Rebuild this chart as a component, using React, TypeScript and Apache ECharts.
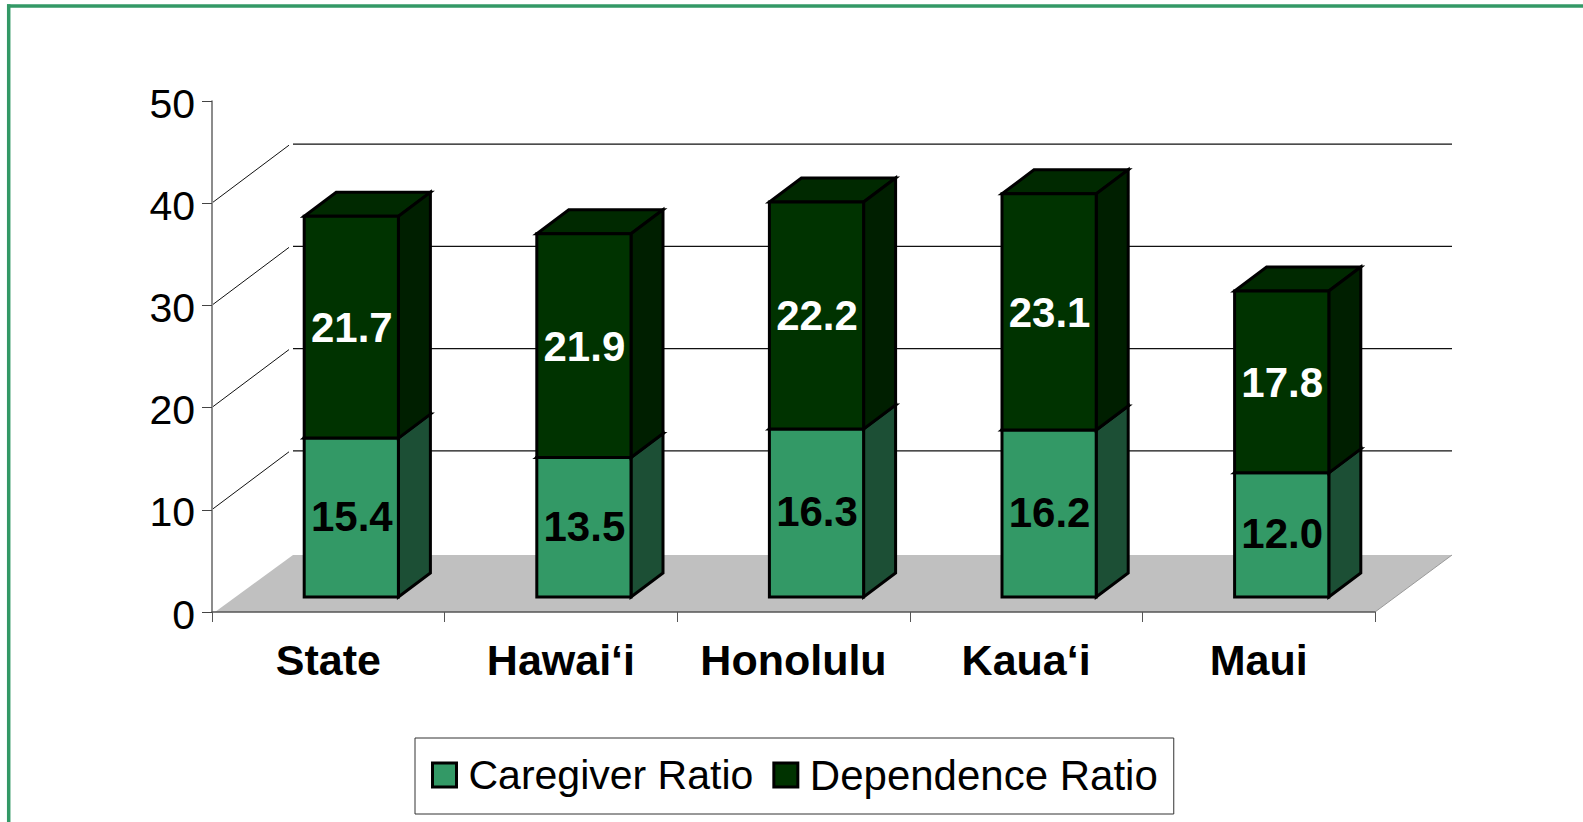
import React, { useEffect, useRef } from "react";
import * as echarts from "echarts";

const categories = ["State", "Hawai‘i", "Honolulu", "Kaua‘i", "Maui"];
const caregiverRatio = [15.4, 13.5, 16.3, 16.2, 12.0];
const dependenceRatio = [21.7, 21.9, 22.2, 23.1, 17.8];
const wallTicks = [10, 20, 30, 40];
const yTicks = { min: 0, max: 50, interval: 10 };

const FONT = "'Liberation Sans', Arial, sans-serif";
const GREEN = "#339966";
const DARK = "#003300";

// 3-D geometry of the plot, in pixels
const BACK_DX = 81;
const BACK_DY = 59;
const FLOOR_DY = 57;
const BAR_DX = 23;
const BAR_DY = 15;
const BAR_LIFT = 1.5;
const SIDE_DX = 32;
const SIDE_DY = 24;
const BAR_BAND = 0.405;

function wallRender(params: any, api: any) {
  const v = api.value(0);
  const first = api.coord([0, v]);
  const halfBand = api.size([1, 0])[0] / 2;
  const x0 = first[0] - halfBand;
  const x1 = api.coord([categories.length - 1, v])[0] + halfBand;
  if (v === 0) {
    return {
      type: "group",
      children: [
        {
          type: "polygon",
          shape: {
            points: [
              [x0 + 3, first[1]],
              [x0 + BACK_DX, first[1] - FLOOR_DY],
              [x1 + BACK_DX - 4, first[1] - FLOOR_DY],
              [x1, first[1]],
            ],
          },
          style: { fill: "#C0C0C0", stroke: "none" },
        },
        {
          type: "line",
          shape: { x1: x1, y1: first[1], x2: x1 + BACK_DX - 4, y2: first[1] - FLOOR_DY },
          style: { stroke: "#9a9a9a", lineWidth: 1 },
        },
      ],
    };
  }
  const y = first[1];
  return {
    type: "group",
    children: [
      {
        type: "line",
        shape: { x1: x0 + 1, y1: y - 1, x2: x0 + 77, y2: y - 58 },
        style: { stroke: "#111", lineWidth: 1 },
      },
      {
        type: "line",
        shape: { x1: x0 + BACK_DX, y1: y - BACK_DY, x2: x1 + BACK_DX - 4, y2: y - BACK_DY },
        style: { stroke: "#111", lineWidth: 1.2 },
      },
    ],
  };
}

function barRender(front: string, side: string, top: string, labelColor: string, labelDy: number) {
  return (params: any, api: any) => {
    const idx = api.value(0);
    const start = api.value(1);
    const val = api.value(2);
    const w = api.size([1, 0])[0] * BAR_BAND;
    const p0 = api.coord([idx, start]);
    const p1 = api.coord([idx, start + val]);
    const l = p0[0] + BAR_DX - w / 2;
    const r = l + w;
    const b = p0[1] - BAR_DY - (start > 0 ? BAR_LIFT : 0);
    const t = p1[1] - BAR_DY - BAR_LIFT;
    const edge = { stroke: "#000", lineWidth: 3, lineJoin: "miter" };
    return {
      type: "group",
      children: [
        {
          type: "polygon",
          shape: { points: [[l, t], [r, t], [r + SIDE_DX, t - SIDE_DY], [l + SIDE_DX, t - SIDE_DY]] },
          style: { fill: top, ...edge },
        },
        {
          type: "polygon",
          shape: { points: [[r, b], [r, t], [r + SIDE_DX, t - SIDE_DY], [r + SIDE_DX, b - SIDE_DY]] },
          style: { fill: side, ...edge },
        },
        {
          type: "polygon",
          shape: { points: [[l, b], [r, b], [r, t], [l, t]] },
          style: { fill: front, ...edge },
        },
        {
          type: "text",
          style: {
            text: val.toFixed(1),
            x: (l + r) / 2 + 0.5,
            y: (b + t) / 2 + labelDy,
            fill: labelColor,
            font: `bold 42px ${FONT}`,
            align: "center",
            verticalAlign: "middle",
          },
        },
      ],
    };
  };
}

export default function App() {
  const ref = useRef<HTMLDivElement>(null);
  useEffect(() => {
    const chart = echarts.init(ref.current!, null, { renderer: "svg" });
    chart.setOption({
      animation: false,
      backgroundColor: "#fff",
      grid: { left: 212, top: 101, width: 1163, height: 511, containLabel: false },
      xAxis: {
        type: "category",
        data: categories,
        z: 5,
        axisLine: { lineStyle: { color: "#555", width: 1.5 } },
        axisTick: { show: true, length: 10, alignWithLabel: false, lineStyle: { color: "#555", width: 1 } },
        axisLabel: { color: "#000", fontFamily: FONT, fontWeight: "bold", fontSize: 43, margin: 26, interval: 0 },
        splitLine: { show: false },
      },
      yAxis: {
        type: "value",
        ...yTicks,
        z: 5,
        axisLine: { show: true, lineStyle: { color: "#666", width: 1.5 } },
        axisTick: { show: true, length: 10, lineStyle: { color: "#444", width: 1 } },
        axisLabel: {
          color: "#000",
          fontFamily: FONT,
          fontSize: 41,
          margin: 17,
          verticalAlign: "top",
          lineHeight: 5,
        },
        splitLine: { show: false },
      },
      legend: {
        left: 415,
        top: 738,
        orient: "horizontal",
        backgroundColor: "#fff",
        borderColor: "#333",
        borderWidth: 1,
        borderRadius: 0,
        padding: [16, 16, 18, 16],
        itemGap: 19,
        itemWidth: 24,
        itemHeight: 24,
        icon: "rect",
        selectedMode: false,
        textStyle: { color: "#000", fontFamily: FONT, fontSize: 41, padding: [0, 0, 0, 7] },
        data: [
          { name: "Caregiver Ratio", itemStyle: { color: GREEN, borderColor: "#000", borderWidth: 3 } },
          {
            name: "Dependence Ratio",
            itemStyle: { color: DARK, borderColor: "#000", borderWidth: 3 },
            textStyle: { color: "#000", fontFamily: FONT, fontSize: 42, padding: [0, 0, 0, 7] },
          },
        ],
      },
      graphic: [
        { type: "line", shape: { x1: 7, y1: 6, x2: 1583, y2: 6 }, style: { stroke: GREEN, lineWidth: 3.5 } },
        { type: "line", shape: { x1: 8.7, y1: 4.3, x2: 8.7, y2: 822 }, style: { stroke: GREEN, lineWidth: 3.5 } },
      ],
      series: [
        {
          type: "custom",
          name: "walls",
          renderItem: wallRender,
          data: [0, ...wallTicks].map((v) => [v]),
          encode: { y: 0 },
          silent: true,
          z: 1,
        },
        {
          type: "custom",
          name: "Caregiver Ratio",
          renderItem: barRender(GREEN, "#1C4F35", "#1C4F35", "#000", -1),
          data: categories.map((_, i) => [i, 0, caregiverRatio[i]]),
          encode: { x: 0, y: 1 },
          itemStyle: { color: GREEN },
          z: 2,
        },
        {
          type: "custom",
          name: "Dependence Ratio",
          renderItem: barRender(DARK, "#001F00", "#002900", "#fff", 0.5),
          data: categories.map((_, i) => [i, caregiverRatio[i], dependenceRatio[i]]),
          encode: { x: 0, y: 1 },
          itemStyle: { color: DARK },
          z: 3,
        },
      ],
    });
    return () => chart.dispose();
  }, []);
  return (
    <div
      ref={ref}
      style={{ position: "absolute", left: 0, top: 0, width: 1583, height: 822, background: "#fff", overflow: "hidden" }}
    />
  );
}
